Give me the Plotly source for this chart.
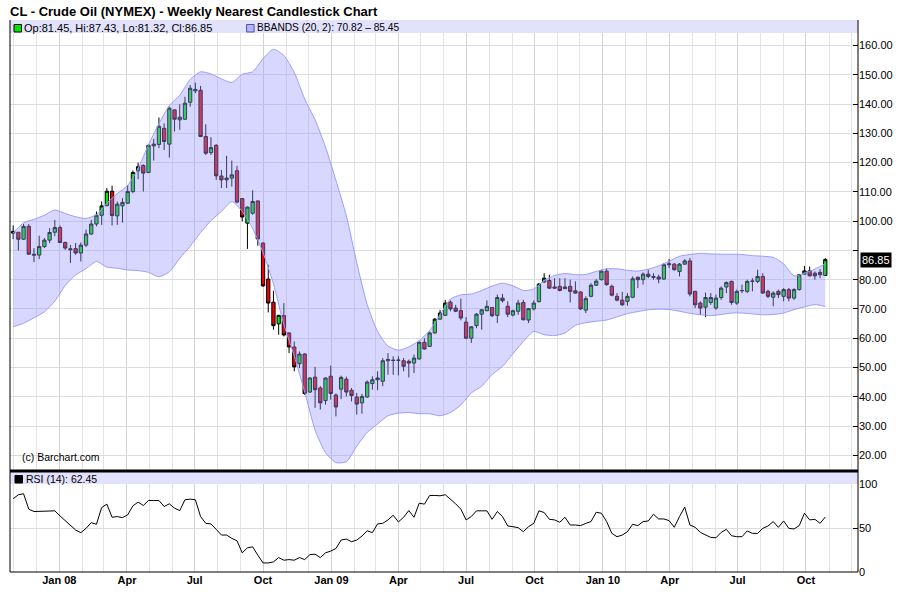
import pandas as pd
import plotly.graph_objects as go

# weekly bars, nearest contract
weeks = pd.date_range("2007-10-31", periods=157, freq="7D")

opens = [95.9, 96.2, 93.8, 98.2, 88.7, 88.4, 91.3, 93.5, 96.2, 97.8,
         92.7, 90.2, 90.6, 89.1, 91.8, 95.6, 99.0, 102.0, 105.3, 110.2,
         101.8, 105.2, 106.1, 110.1, 117.2, 119.0, 116.6, 125.7, 126.2, 131.7,
         126.3, 138.0, 134.6, 134.8, 140.6, 144.5, 144.7, 128.9, 123.4, 125.9,
         115.4, 114.1, 114.7, 117.2, 107.7, 99.3, 102.7, 106.9, 92.5, 80.2,
         72.3, 64.9, 67.7, 61.8, 57.0, 51.3, 54.6, 41.6, 46.7, 43.0,
         38.7, 47.0, 40.6, 42.6, 46.0, 42.2, 39.9, 37.9, 39.9, 44.5,
         45.8, 45.3, 52.3, 52.5, 52.4, 52.3, 52.1, 51.5, 52.9, 58.6,
         57.2, 61.8, 66.5, 67.8, 72.3, 70.3, 69.4, 65.5, 60.0, 64.3,
         68.2, 69.4, 70.5, 67.8, 73.7, 70.9, 67.9, 69.2, 72.2, 66.2,
         70.0, 72.5, 79.2, 79.7, 77.5, 77.7, 76.9, 77.7, 76.2, 75.8,
         69.6, 74.3, 78.1, 80.0, 82.9, 77.7, 74.3, 73.0, 72.6, 74.0,
         80.8, 80.0, 81.9, 81.1, 80.9, 80.2, 85.1, 85.3, 82.8, 85.3,
         86.4, 76.0, 72.0, 70.6, 72.2, 70.3, 73.9, 77.5, 79.4, 72.0,
         76.2, 76.0, 79.4, 79.4, 81.1, 76.0, 74.0, 76.0, 74.3, 76.6,
         73.7, 76.6, 81.9, 83.0, 82.2, 82.5, 81.45]
highs = [98.5, 96.3, 99.0, 99.0, 90.8, 95.0, 94.2, 97.6, 100.4, 98.5,
         93.0, 91.9, 92.5, 92.7, 97.1, 100.4, 103.3, 106.7, 111.3, 112.1,
         106.7, 107.8, 112.3, 117.3, 120.0, 119.4, 126.2, 128.1, 135.4, 133.4,
         139.1, 138.2, 139.9, 142.5, 146.5, 147.3, 146.2, 133.1, 128.7, 126.3,
         117.5, 122.3, 120.7, 118.9, 107.8, 105.0, 110.5, 107.0, 92.7, 85.1,
         76.2, 68.0, 72.0, 62.0, 58.9, 55.5, 54.9, 46.7, 50.2, 43.6,
         46.6, 50.6, 41.1, 47.2, 46.9, 43.0, 41.3, 41.0, 45.6, 47.0,
         48.7, 53.2, 54.9, 53.8, 53.8, 53.2, 52.7, 54.4, 58.9, 60.0,
         62.3, 66.9, 69.7, 73.1, 72.9, 71.4, 73.5, 67.2, 64.0, 68.6,
         69.9, 72.9, 70.6, 74.9, 75.1, 72.6, 69.7, 73.1, 73.1, 70.3,
         72.9, 78.8, 82.2, 81.7, 80.5, 80.5, 80.5, 80.0, 79.4, 76.0,
         74.3, 78.8, 80.2, 83.4, 83.8, 78.3, 75.4, 75.8, 75.4, 81.1,
         81.1, 82.5, 83.4, 82.2, 81.7, 85.7, 87.0, 85.7, 85.7, 87.0,
         87.4, 76.2, 72.6, 75.6, 75.4, 74.9, 77.7, 79.4, 79.7, 76.6,
         78.3, 80.0, 80.5, 83.4, 82.2, 76.6, 76.0, 76.6, 77.1, 77.1,
         77.1, 81.9, 84.7, 84.5, 82.8, 83.6, 87.43]
lows = [93.8, 90.0, 93.6, 88.5, 86.0, 87.0, 90.8, 92.5, 94.8, 92.5,
        90.2, 85.7, 88.5, 86.2, 91.1, 95.3, 98.2, 98.7, 105.0, 98.5,
        98.7, 99.5, 105.8, 109.5, 114.3, 110.1, 116.4, 120.7, 124.9, 124.3,
        121.7, 130.6, 131.2, 134.6, 139.1, 143.7, 128.7, 122.6, 122.6, 114.1,
        111.3, 111.3, 111.8, 106.1, 99.9, 90.5, 102.2, 91.6, 77.5, 68.8,
        62.9, 61.2, 60.6, 54.9, 48.7, 49.8, 40.6, 41.3, 36.2, 35.6,
        37.3, 39.0, 33.3, 39.2, 40.1, 38.4, 33.9, 34.2, 39.6, 42.4,
        42.2, 43.6, 47.5, 47.5, 47.3, 48.7, 46.6, 48.1, 52.7, 56.1,
        57.0, 61.5, 66.3, 67.7, 69.2, 68.9, 66.1, 59.7, 58.4, 63.4,
        62.9, 69.2, 67.2, 65.2, 72.2, 67.2, 67.4, 68.0, 66.1, 65.2,
        69.5, 72.2, 78.8, 76.8, 77.0, 76.0, 76.8, 72.2, 75.2, 69.7,
        68.6, 74.0, 77.9, 79.7, 77.9, 74.3, 72.6, 71.1, 71.1, 73.7,
        77.1, 78.3, 80.5, 80.0, 78.8, 80.0, 84.0, 83.1, 81.1, 85.1,
        74.3, 70.3, 68.0, 67.2, 71.4, 69.7, 73.1, 75.4, 71.4, 71.4,
        75.4, 75.4, 76.0, 78.8, 75.2, 73.7, 70.9, 73.7, 72.6, 72.6,
        73.1, 76.3, 81.7, 81.1, 80.0, 80.5, 81.32]
closes = [96.5, 93.8, 98.2, 88.7, 88.4, 91.3, 93.5, 96.1, 97.8, 92.7,
          90.8, 90.5, 89.1, 91.8, 95.6, 99.0, 102.0, 105.2, 110.2, 101.9,
          105.8, 106.4, 110.1, 116.6, 118.6, 116.4, 125.9, 126.3, 132.4, 127.2,
          138.6, 134.8, 135.5, 140.3, 145.4, 145.0, 128.9, 123.2, 125.1, 115.5,
          114.1, 114.7, 115.8, 106.5, 101.4, 104.8, 106.7, 93.9, 77.9, 72.0,
          64.3, 67.8, 61.1, 57.0, 50.2, 54.6, 41.1, 46.4, 42.4, 37.9,
          46.4, 41.1, 36.5, 46.6, 41.6, 40.4, 37.5, 40.1, 45.0, 45.8,
          46.4, 52.3, 52.7, 52.4, 52.5, 50.4, 51.5, 53.2, 58.6, 56.3,
          61.8, 66.5, 68.6, 72.0, 70.0, 69.2, 66.9, 60.0, 63.9, 68.2,
          69.7, 70.9, 67.7, 73.9, 72.8, 68.2, 69.4, 72.0, 66.3, 70.1,
          72.0, 78.5, 80.5, 77.1, 77.1, 76.3, 77.5, 76.0, 75.4, 70.0,
          73.5, 78.1, 79.5, 82.9, 78.3, 74.7, 73.0, 71.4, 74.3, 80.3,
          80.0, 81.9, 81.1, 80.8, 80.2, 85.1, 85.4, 83.4, 85.3, 86.4,
          75.1, 71.4, 70.3, 73.9, 73.9, 73.7, 77.1, 79.0, 72.2, 76.0,
          76.3, 79.4, 79.5, 81.1, 75.4, 74.3, 75.4, 74.9, 76.6, 73.7,
          76.6, 81.7, 83.0, 81.3, 81.3, 81.7, 86.85]

# Bollinger bands (20, 2), read every other week
band_weeks = weeks[::2]
bb_upper = [95.9, 99.4, 100.6, 102.0, 103.8, 102.6, 101.5, 100.9, 102.2, 106.1,
            109.4, 112.2, 118.0, 126.1, 133.3, 139.5, 143.0, 148.4, 151.0, 150.3,
            148.6, 147.3, 150.2, 151.0, 155.5, 158.7, 156.6, 150.8, 141.7, 134.6,
            125.3, 113.9, 101.8, 85.8, 71.5, 62.3, 57.3, 55.9, 57.0, 59.2,
            62.6, 68.0, 73.4, 74.8, 75.1, 76.3, 77.8, 78.8, 77.9, 76.3,
            76.8, 79.7, 81.4, 82.1, 81.7, 81.8, 82.8, 83.7, 83.7, 83.2,
            82.9, 83.6, 84.7, 86.3, 88.0, 88.6, 89.0, 88.8, 88.7, 88.7,
            88.6, 88.2, 88.0, 87.6, 85.4, 81.3, 82.2, 83.6, 85.45]
bb_lower = [63.9, 65.1, 67.0, 69.0, 72.7, 78.0, 81.6, 83.8, 86.2, 84.3,
            83.9, 83.3, 83.1, 82.5, 81.0, 82.7, 87.3, 91.4, 96.1, 100.2,
            103.3, 106.7, 103.3, 97.5, 89.2, 78.6, 64.6, 53.9, 41.6, 28.6,
            20.9, 17.5, 17.8, 23.1, 27.8, 30.7, 33.5, 34.4, 34.6, 34.2,
            34.2, 33.5, 34.6, 37.2, 41.3, 43.6, 47.6, 50.4, 54.7, 58.9,
            62.3, 61.2, 60.9, 61.8, 64.4, 65.3, 65.8, 66.2, 67.3, 68.4,
            69.1, 69.7, 69.9, 69.8, 69.2, 68.5, 68.0, 67.7, 68.1, 68.6,
            68.6, 68.3, 68.0, 68.1, 68.6, 69.8, 70.7, 71.5, 70.82]

rsi = [83.2, 87.8, 88.9, 71.4, 68.7, 68.7, 68.7, 68.7, 69.5, 63.7,
       58.4, 53.4, 47.7, 44.7, 49.6, 56.1, 54.2, 73.3, 77.1, 62.2,
       63.0, 61.8, 64.9, 75.2, 79.4, 75.6, 81.3, 81.3, 81.3, 74.4,
       77.5, 72.5, 69.8, 82.1, 82.8, 82.1, 63.0, 55.3, 54.6, 48.5,
       42.0, 42.0, 38.2, 35.5, 21.8, 27.5, 28.6, 19.1, 10.3, 10.3,
       11.5, 16.4, 13.4, 14.1, 13.4, 16.4, 14.1, 19.8, 20.2, 16.4,
       21.8, 23.7, 26.7, 36.3, 37.4, 34.4, 36.3, 40.8, 46.9, 44.7,
       54.6, 55.3, 59.2, 64.5, 56.9, 62.2, 69.8, 62.2, 78.2, 77.1,
       87.0, 87.0, 86.6, 87.8, 82.8, 77.5, 71.4, 59.2, 63.0, 69.5,
       69.5, 69.5, 59.9, 68.7, 63.0, 52.3, 51.5, 50.4, 45.8, 51.5,
       55.3, 69.5, 67.6, 59.9, 59.2, 56.5, 62.2, 53.4, 53.4, 52.7,
       55.3, 57.3, 67.9, 66.8, 57.3, 43.9, 40.1, 42.0, 45.8, 54.2,
       52.7, 57.3, 58.0, 65.6, 60.3, 60.3, 58.4, 50.8, 63.0, 73.7,
       53.4, 50.8, 45.0, 42.0, 39.3, 38.9, 45.0, 48.5, 41.2, 40.1,
       40.1, 46.6, 43.9, 43.9, 49.6, 52.3, 57.3, 50.8, 58.0, 49.6,
       48.9, 52.7, 66.8, 59.2, 59.9, 55.3, 62.45]

quarter_ticks = ["2008-01-01", "2008-04-01", "2008-07-01", "2008-10-01",
                 "2009-01-01", "2009-04-01", "2009-07-01", "2009-10-01",
                 "2010-01-01", "2010-04-01", "2010-07-01", "2010-10-01"]
quarter_labels = ["Jan 08", "Apr", "Jul", "Oct", "Jan 09", "Apr", "Jul", "Oct",
                  "Jan 10", "Apr", "Jul", "Oct"]
price_ticks = list(range(20, 170, 10))
price_labels = ["" if v == 90 else f"{v:.2f}" for v in price_ticks]

FONT = "Liberation Sans, Arial, sans-serif"
X_RANGE = ["2007-10-26 18:00", "2010-12-10"]


# pixel helpers: plot area is 10..857.7 x 20..572 on the 900x612 page
def fx(x):
    return (x - 10) / 847.7


def fy(y):
    return (572 - y) / 552


fig = go.Figure()
fig.add_trace(go.Scatter(x=band_weeks, y=bb_lower, mode="lines",
                         line=dict(color="#9c9cff", width=1, shape="spline", smoothing=0.6),
                         hoverinfo="skip", showlegend=False))
fig.add_trace(go.Scatter(x=band_weeks, y=bb_upper, mode="lines",
                         line=dict(color="#9c9cff", width=1, shape="spline", smoothing=0.6),
                         fill="tonexty", fillcolor="rgba(150,150,255,0.38)",
                         hoverinfo="skip", showlegend=False))
fig.add_trace(go.Candlestick(x=weeks, open=opens, high=highs, low=lows, close=closes,
                             increasing=dict(fillcolor="#00e600", line=dict(color="black", width=1)),
                             decreasing=dict(fillcolor="#f00000", line=dict(color="black", width=1)),
                             showlegend=False))
fig.add_trace(go.Scatter(x=weeks, y=rsi, mode="lines", xaxis="x2", yaxis="y2",
                         line=dict(color="black", width=1), showlegend=False))

xgrid = dict(type="date", range=X_RANGE, tickvals=quarter_ticks, showgrid=True,
             gridcolor="#d2d2d2", gridwidth=1, zeroline=False, showline=False, ticks="",
             minor=dict(dtick="M1", tick0="2007-11-01", showgrid=True, gridcolor="#e3e3e3"))

shapes = [
    dict(type="rect", xref="paper", yref="paper", x0=0, x1=1, y0=fy(33), y1=fy(20),
         fillcolor="#e2e2fc", line=dict(width=0)),
    dict(type="rect", xref="paper", yref="paper", x0=0, x1=1, y0=fy(484), y1=fy(472),
         fillcolor="#e2e2fc", line=dict(width=0)),
    dict(type="line", xref="paper", yref="paper", x0=0, x1=1, y0=fy(471), y1=fy(471),
         line=dict(color="black", width=3)),
    dict(type="line", xref="paper", yref="paper", x0=0, x1=0, y0=0, y1=1,
         line=dict(color="black", width=1)),
    dict(type="line", xref="paper", yref="paper", x0=1, x1=1, y0=0, y1=1,
         line=dict(color="black", width=1)),
    dict(type="line", xref="paper", yref="paper", x0=0, x1=1, y0=0, y1=0,
         line=dict(color="black", width=1)),
    dict(type="rect", xref="paper", yref="paper", x0=fx(14), x1=fx(21.5), y0=fy(32), y1=fy(24.5),
         fillcolor="#00e600", line=dict(color="black", width=1)),
    dict(type="rect", xref="paper", yref="paper", x0=fx(246.5), x1=fx(254), y0=fy(32), y1=fy(24.5),
         fillcolor="#b4b4ff", line=dict(color="#5050a0", width=1)),
    dict(type="rect", xref="paper", yref="paper", x0=fx(15), x1=fx(22.5), y0=fy(483), y1=fy(475.5),
         fillcolor="black", line=dict(color="black", width=1)),
]

annotations = [
    dict(text="<b>CL - Crude Oil (NYMEX) - Weekly Nearest Candlestick Chart</b>",
         x=0, y=fy(11.5), xref="paper", yref="paper", xanchor="left", yanchor="middle",
         xshift=-2, showarrow=False, font=dict(size=13, color="black")),
    dict(text="Op:81.45, Hi:87.43, Lo:81.32, Cl:86.85", x=fx(22), y=fy(27.5),
         xref="paper", yref="paper", xanchor="left", yanchor="middle", showarrow=False,
         font=dict(size=11, color="black")),
    dict(text="BBANDS (20, 2): 70.82 – 85.45", x=fx(254.5), y=fy(27.5),
         xref="paper", yref="paper", xanchor="left", yanchor="middle", showarrow=False,
         font=dict(size=10.2, color="black")),
    dict(text="RSI (14): 62.45", x=fx(24), y=fy(478.5),
         xref="paper", yref="paper", xanchor="left", yanchor="middle", showarrow=False,
         font=dict(size=10.5, color="black")),
    dict(text="(c) Barchart.com", x=fx(20), y=fy(457),
         xref="paper", yref="paper", xanchor="left", yanchor="middle", showarrow=False,
         font=dict(size=10.5, color="black")),
    dict(text="86.85", x=1, y=closes[-1], xref="paper", yref="y", xanchor="left",
         yanchor="middle", xshift=2, showarrow=False, bgcolor="black", borderpad=1,
         font=dict(size=11, color="white")),
]

fig.update_layout(
    width=900, height=612,
    margin=dict(l=10, r=42.3, t=20, b=40, autoexpand=False),
    paper_bgcolor="white", plot_bgcolor="white",
    font=dict(family=FONT, size=11, color="black"),
    showlegend=False,
    boxgap=0.1,
    xaxis=dict(xgrid, anchor="y", domain=[0, 1], showticklabels=False,
               rangeslider=dict(visible=False)),
    xaxis2=dict(xgrid, anchor="y2", domain=[0, 1], matches="x",
                ticktext=quarter_labels, tickfont=dict(size=11, weight="bold")),
    yaxis=dict(domain=[fy(470), fy(33)], side="right", range=[14.97, 164.27],
               tickvals=price_ticks, ticktext=price_labels, ticks="inside", ticklen=5,
               tickcolor="black", gridcolor="#dcdcdc", zeroline=False, showline=False),
    yaxis2=dict(domain=[0, fy(484)], side="right", range=[0, 100],
                tickvals=[0, 50, 100], ticktext=["0", "50", "100"], ticks="inside",
                ticklen=5, tickcolor="black", gridcolor="#dcdcdc", zeroline=False,
                showline=False),
    shapes=shapes,
    annotations=annotations,
)

# drop the page's default 8px body margin so the chart sits at the window corner
fig.write_html("out.html", config={"displayModeBar": False},
               post_script="document.body.style.margin = '0';")
